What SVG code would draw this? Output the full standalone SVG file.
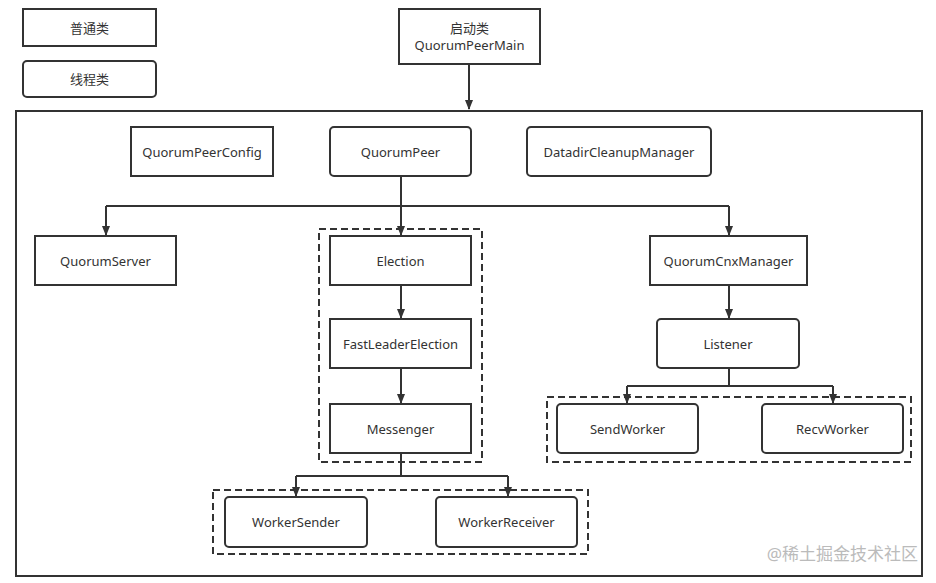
<svg xmlns="http://www.w3.org/2000/svg" width="936" height="583" viewBox="0 0 936 583">
<style>
.n{fill:#fff;stroke:#333;stroke-width:2}
.d{fill:none;stroke:#333;stroke-width:2;stroke-dasharray:7 4}
.c{fill:none;stroke:#333;stroke-width:2}
text{font-family:"Noto Sans","Noto Sans CJK SC",sans-serif;font-size:13px;fill:#333;text-anchor:middle;dominant-baseline:central}
.w{font-size:17px;fill:#bbb;text-anchor:end}
</style>
<defs>
<marker id="a" markerWidth="10" markerHeight="10" refX="9" refY="5" orient="auto" markerUnits="userSpaceOnUse">
<path d="M0,1 L10,5 L0,9 Z" fill="#333"/>
</marker>
</defs>
<rect width="936" height="583" fill="#fff"/>
<rect id="container" x="16" y="111" width="906" height="465" class="n"/>
<g id="legend-normal"><rect x="23" y="9" width="133" height="37" class="n"/><text x="89.5" y="27.5">普通类</text></g>
<g id="legend-thread"><rect x="23" y="61" width="133" height="36" rx="4" class="n"/><text x="89.5" y="79">线程类</text></g>
<g id="QuorumPeerMain"><rect x="399" y="9" width="141" height="55" class="n"/><text x="469.5" y="28">启动类</text><text x="469.5" y="45">QuorumPeerMain</text></g>
<g id="groups">
<rect x="319" y="229" width="163" height="233" class="d"/>
<rect x="547" y="397" width="364" height="65" class="d"/>
<rect x="213" y="490" width="375" height="64" class="d"/>
</g>
<g id="connectors">
<path d="M469,64 V109" class="c" marker-end="url(#a)"/>
<path d="M401,176 V206" class="c"/>
<path d="M106,206 H729" class="c"/>
<path d="M106,206 V235" class="c" marker-end="url(#a)"/>
<path d="M401,206 V235" class="c" marker-end="url(#a)"/>
<path d="M729,206 V235" class="c" marker-end="url(#a)"/>
<path d="M401,285 V318" class="c" marker-end="url(#a)"/>
<path d="M401,368 V403" class="c" marker-end="url(#a)"/>
<path d="M729,285 V318" class="c" marker-end="url(#a)"/>
<path d="M729,368 V386 M627,386 H833" class="c"/>
<path d="M627,386 V403" class="c" marker-end="url(#a)"/>
<path d="M833,386 V403" class="c" marker-end="url(#a)"/>
<path d="M401,453 V476 M296,476 H508" class="c"/>
<path d="M296,476 V496" class="c" marker-end="url(#a)"/>
<path d="M508,476 V496" class="c" marker-end="url(#a)"/>
</g>
<g id="QuorumPeerConfig"><rect x="131" y="127" width="142" height="49" class="n"/><text x="202" y="151.5">QuorumPeerConfig</text></g>
<g id="QuorumPeer"><rect x="330" y="127" width="141" height="49" rx="4" class="n"/><text x="400.5" y="151.5">QuorumPeer</text></g>
<g id="DatadirCleanupManager"><rect x="527" y="127" width="184" height="49" rx="4" class="n"/><text x="619" y="151.5">DatadirCleanupManager</text></g>
<g id="QuorumServer"><rect x="35" y="236" width="141" height="49" class="n"/><text x="105.5" y="260.5">QuorumServer</text></g>
<g id="Election"><rect x="330" y="236" width="141" height="49" class="n"/><text x="400.5" y="260.5">Election</text></g>
<g id="FastLeaderElection"><rect x="330" y="319" width="141" height="49" class="n"/><text x="400.5" y="343.5">FastLeaderElection</text></g>
<g id="Messenger"><rect x="330" y="404" width="141" height="49" class="n"/><text x="400.5" y="428.5">Messenger</text></g>
<g id="QuorumCnxManager"><rect x="650" y="236" width="157" height="49" class="n"/><text x="728.5" y="260.5">QuorumCnxManager</text></g>
<g id="Listener"><rect x="657" y="319" width="142" height="49" rx="4" class="n"/><text x="728" y="343.5">Listener</text></g>
<g id="SendWorker"><rect x="557" y="404" width="141" height="49" rx="4" class="n"/><text x="627.5" y="428.5">SendWorker</text></g>
<g id="RecvWorker"><rect x="762" y="404" width="141" height="49" rx="4" class="n"/><text x="832.5" y="428.5">RecvWorker</text></g>
<g id="WorkerSender"><rect x="225" y="497" width="142" height="50" rx="4" class="n"/><text x="296" y="522">WorkerSender</text></g>
<g id="WorkerReceiver"><rect x="436" y="497" width="141" height="50" rx="4" class="n"/><text x="506.5" y="522">WorkerReceiver</text></g>
<text class="w" x="918" y="553">@稀土掘金技术社区</text>
</svg>
